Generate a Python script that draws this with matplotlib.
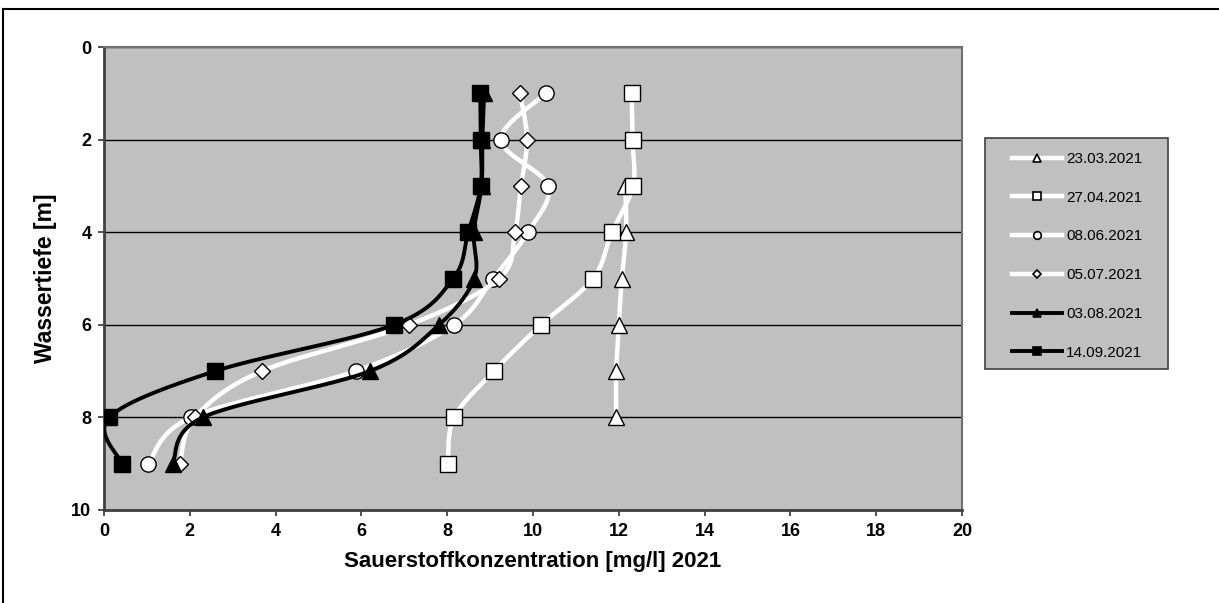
import matplotlib
matplotlib.use("Agg")
import matplotlib.pyplot as plt
import numpy as np
from matplotlib.lines import Line2D
from matplotlib.patches import Rectangle

plt.rcParams["font.family"] = ["Liberation Sans", "DejaVu Sans"]

# Messtiefen [m]
depths = [1, 2, 3, 4, 5, 6, 7, 8, 9]
depths_0323 = [3, 4, 5, 6, 7, 8]

# Sauerstoffkonzentration [mg/l]
o2_0323 = [12.15, 12.17, 12.07, 12.0, 11.94, 11.94]
o2_0427 = [12.3, 12.32, 12.33, 11.84, 11.4, 10.19, 9.09, 8.16, 8.02]
o2_0806 = [10.3, 9.25, 10.35, 9.88, 9.07, 8.16, 5.87, 2.03, 1.03]
o2_0507 = [9.7, 9.86, 9.72, 9.58, 9.21, 7.11, 3.68, 2.12, 1.77]
o2_0308 = [8.86, 8.82, 8.8, 8.62, 8.63, 7.81, 6.2, 2.3, 1.6]
o2_1409 = [8.77, 8.78, 8.78, 8.49, 8.14, 6.76, 2.59, 0.12, 0.42]

labels = ["23.03.2021", "27.04.2021", "08.06.2021", "05.07.2021", "03.08.2021", "14.09.2021"]
x_ticks = list(range(0, 21, 2))
y_ticks = list(range(0, 11, 2))

W, H = 1219, 603


def smooth(xs, ys, n=30):
    """Excel-style smoothed line (Bezier through points)"""
    p = np.column_stack([xs, ys]).astype(float)
    if len(p) < 3:
        return p[:, 0], p[:, 1]
    ext = np.vstack([p[0], p, p[-1]])
    t = np.linspace(0, 1, n)[:, None]
    out = []
    for i in range(1, len(ext) - 2):
        p0, p3 = ext[i], ext[i + 1]
        c1 = p0 + (ext[i + 1] - ext[i - 1]) / 6
        c2 = p3 - (ext[i + 2] - ext[i]) / 6
        seg = (1 - t) ** 3 * p0 + 3 * (1 - t) ** 2 * t * c1 + 3 * (1 - t) * t ** 2 * c2 + t ** 3 * p3
        out.append(seg)
    out = np.vstack(out)
    return out[:, 0], out[:, 1]


series = [
    (o2_0323, depths_0323, "white", "^", "white", 11),
    (o2_0427, depths, "white", "s", "white", 11),
    (o2_0806, depths, "white", "o", "white", 11),
    (o2_0507, depths, "white", "D", "white", 8),
    (o2_0308, depths, "black", "^", "black", 11),
    (o2_1409, depths, "black", "s", "black", 11),
]

fig = plt.figure(figsize=(W / 100, H / 100), dpi=100)
ax = fig.add_axes([104 / W, 1 - 510 / H, 858 / W, 463 / H])
ax.set_facecolor("#c0c0c0")

handles = []
for i, (xs, ys, lc, mk, fc, ms) in enumerate(series):
    sx, sy = smooth(xs, ys)
    lw = 3.2 if lc == "white" else 2.8
    ax.plot(sx, sy, color=lc, lw=lw, zorder=3 + i, solid_capstyle="round")
    ax.plot(xs, ys, ls="none", marker=mk, ms=ms, mfc=fc, mec="black", mew=1.0, zorder=3 + i)
    handles.append(Line2D([], [], color=lc, lw=lw, marker=mk, ms=ms * 0.5,
                          mfc=fc, mec="black", mew=1.2))

ax.set_xlim(0, 20)
ax.set_ylim(10, 0)
ax.set_xticks(x_ticks)
ax.set_yticks(y_ticks)
ax.tick_params(axis="both", labelsize=13, width=1.2, length=4, color="#333333", pad=5)
for lab in ax.get_xticklabels() + ax.get_yticklabels():
    lab.set_fontweight("bold")
ax.yaxis.grid(True, color="black", lw=1.0)
ax.set_axisbelow(True)
for k in ["top", "right"]:
    ax.spines[k].set_color("#707070")
    ax.spines[k].set_linewidth(1.5)
for k in ["left", "bottom"]:
    ax.spines[k].set_color("#404040")
    ax.spines[k].set_linewidth(2)

ax.set_xlabel("Sauerstoffkonzentration [mg/l] 2021", fontsize=16, fontweight="bold", labelpad=8)
ax.set_ylabel("Wassertiefe [m]", fontsize=16.5, fontweight="bold", labelpad=10)

# legend box drawn separately so its size matches the original
fig.add_artist(Rectangle((985 / W, 1 - 369 / H), 183 / W, 231 / H, transform=fig.transFigure,
                         facecolor="#c0c0c0", edgecolor="#404040", lw=1.2, zorder=1))
leg = fig.legend(handles, labels, loc="upper left", bbox_to_anchor=(1012 / W, 1 - 152 / H),
                 fontsize=11, frameon=False, handlelength=3.3,
                 labelspacing=1.62, borderpad=0, handletextpad=0.25, borderaxespad=0)
leg.set_zorder(2)

# outer chart border
fig.add_artist(Line2D([3 / W, 1], [1 - 9 / H, 1 - 9 / H], transform=fig.transFigure,
                      color="black", lw=1.5))
fig.add_artist(Line2D([3 / W, 3 / W], [0, 1 - 9 / H], transform=fig.transFigure,
                      color="black", lw=1.5))

fig.savefig("out.png", dpi=100)
